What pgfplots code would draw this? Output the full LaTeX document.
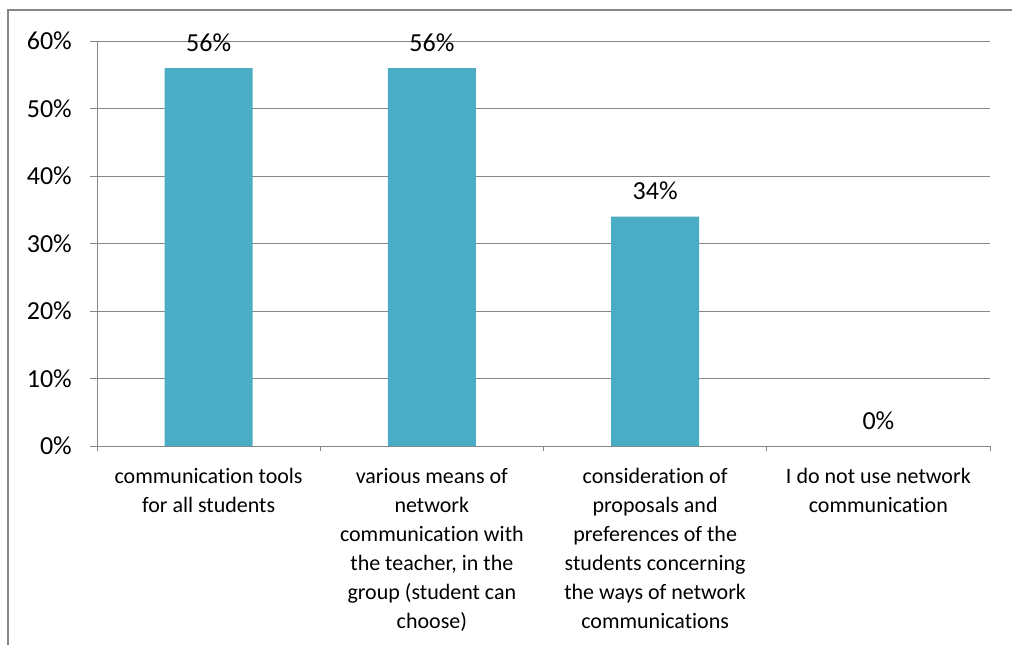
\documentclass[border=0pt]{standalone}
\usepackage{pgfplots}
\pgfplotsset{compat=1.18}
\usepackage{fontspec}
\setmainfont{Carlito}[Ligatures=NoCommon]
\definecolor{barteal}{HTML}{4BACC6}
\definecolor{framegray}{HTML}{868686}
\begin{document}
\begin{tikzpicture}[x=1pt,y=1pt]
\path[use as bounding box] (0,0) rectangle (1012,-645);
% outer chart frame
\draw[framegray, line width=2pt] (8,-645) -- (8,-10) -- (1012,-10);
\begin{axis}[
  at={(97pt,-446pt)}, anchor=south west,
  scale only axis,
  width=893pt, height=405pt,
  xmin=-0.5, xmax=3.5,
  ymin=0, ymax=60,
  axis x line*=bottom, axis y line*=left,
  axis line style={framegray, line width=1pt},
  ytick={0,10,...,60},
  yticklabel={\pgfmathprintnumber{\tick}\%},
  /pgf/number format/assume math mode=true,
  ymajorgrids, grid style={framegray, line width=1pt},
  tick align=outside,
  y tick style={framegray, line width=1pt},
  major tick length=7pt,
  xtick={0,1,2,3},
  x tick style={draw=none},
  minor xtick={-0.5,0.5,1.5,2.5,3.5},
  minor x tick style={draw=framegray, line width=1pt},
  minor tick length=5pt,
  xticklabels={
    {communication tools\\for all students},
    {various means of\\network\\communication with\\the teacher, in the\\group (student can\\choose)},
    {consideration of\\proposals and\\preferences of the\\students concerning\\the ways of network\\communications},
    {I do not use network\\communication}},
  xticklabel style={align=center, anchor=north, inner sep=0pt, yshift=-15pt,
    font=\fontsize{22}{29}\selectfont},
  yticklabel style={font=\fontsize{26}{30}\selectfont, inner sep=0pt, xshift=-18pt},
  ybar, bar width=88pt,
  nodes near coords={\pgfmathprintnumber{\pgfplotspointmeta}\%},
  every node near coord/.append style={font=\fontsize{26}{30}\selectfont, inner sep=0pt, anchor=base, yshift=17pt},
  clip=false,
]
\addplot[fill=barteal, draw=none] coordinates {(0,56) (1,56) (2,34) (3,0)};
\end{axis}
\end{tikzpicture}
\end{document}
